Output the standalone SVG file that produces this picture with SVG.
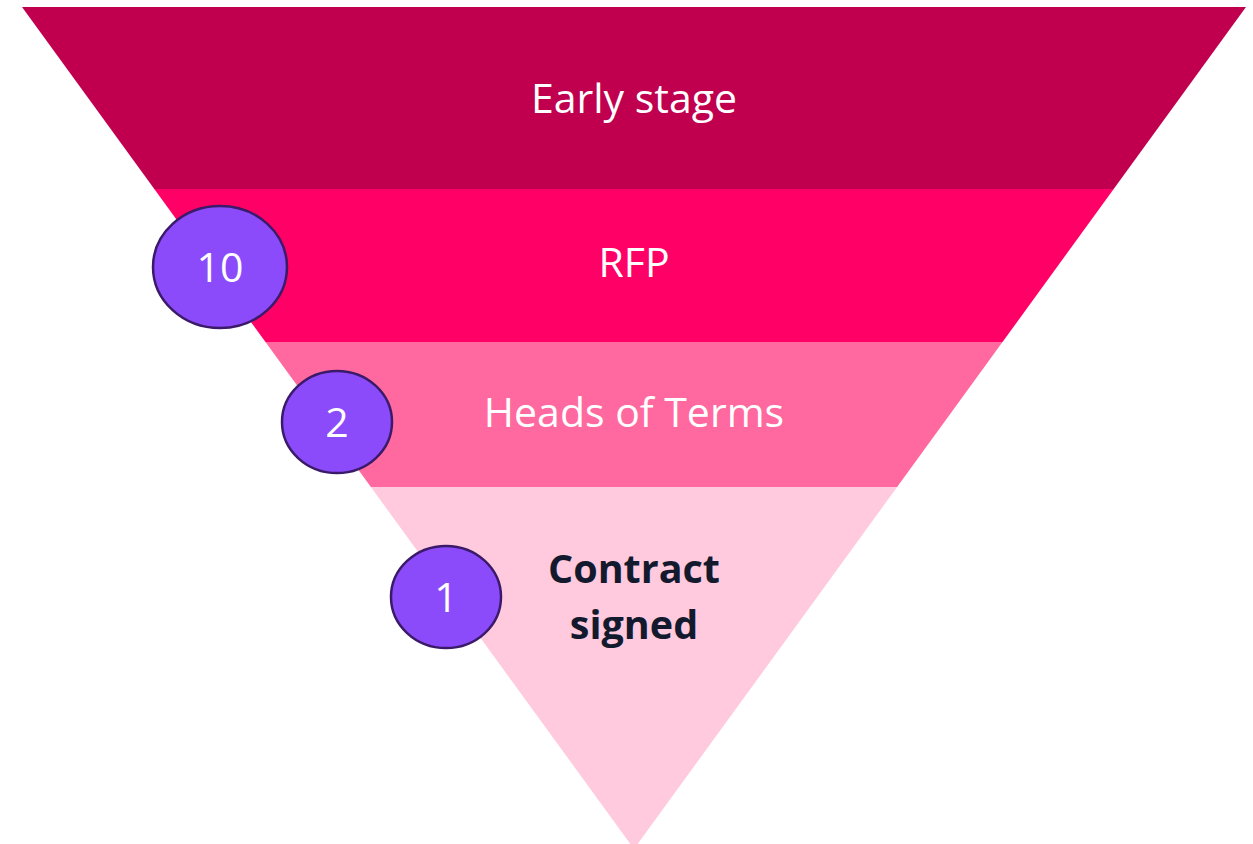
<svg xmlns="http://www.w3.org/2000/svg" width="1253" height="844" viewBox="0 0 1253 844">
<style>
.lbl{font-family:"Open Sans","Liberation Sans",sans-serif;font-size:41px;fill:#ffffff;text-anchor:middle}
.dark{font-family:"Open Sans","Liberation Sans",sans-serif;font-size:39.5px;font-weight:bold;fill:#141a2e;text-anchor:middle}
.badge{fill:#8c4bfa;stroke:#3b1a6a;stroke-width:2.5}
.num{font-family:"Open Sans","Liberation Sans",sans-serif;font-size:41px;fill:#ffffff;text-anchor:middle}
</style>
<rect width="1253" height="844" fill="#ffffff"/>
<g id="band-early">
<polygon points="22,7 1246,7 1113.7,189 154.3,189" fill="#c0004f"/>
<text class="lbl" x="634" y="113">Early stage</text>
</g>
<g id="band-rfp">
<polygon points="154.3,189 1113.7,189 1002.5,342 265.5,342" fill="#ff0066"/>
<text class="lbl" x="634" y="277">RFP</text>
</g>
<g id="band-hot">
<polygon points="265.5,342 1002.5,342 897.1,487 370.9,487" fill="#ff69a0"/>
<text class="lbl" x="634" y="427">Heads of Terms</text>
</g>
<g id="band-contract">
<polygon points="370.9,487 897.1,487 634,849" fill="#ffc9de"/>
<text class="dark" x="634" y="583">Contract</text>
<text class="dark" x="634" y="639">signed</text>
</g>
<g id="badge-10">
<ellipse class="badge" cx="220" cy="267" rx="67" ry="61"/>
<text class="num" x="220" y="282">10</text>
</g>
<g id="badge-2">
<ellipse class="badge" cx="337" cy="422" rx="55" ry="51"/>
<text class="num" x="337" y="437">2</text>
</g>
<g id="badge-1">
<ellipse class="badge" cx="446" cy="597" rx="55" ry="51"/>
<text class="num" x="446" y="612">1</text>
</g>
<g id="connectors"/>
</svg>
